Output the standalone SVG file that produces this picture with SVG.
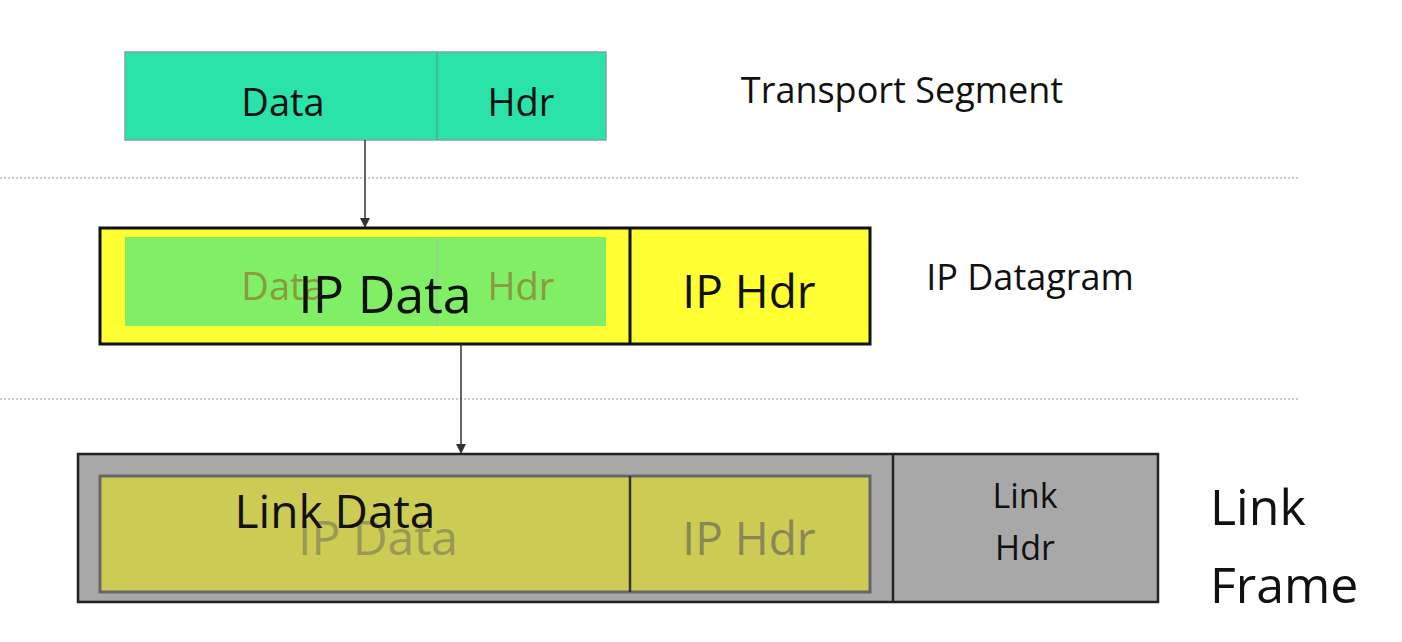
<svg xmlns="http://www.w3.org/2000/svg" width="1402" height="642" viewBox="0 0 1402 642">
<defs><marker id="ah" markerWidth="10" markerHeight="10" refX="9" refY="5" orient="auto" markerUnits="userSpaceOnUse"><path d="M0,0 L10,5 L0,10 z" fill="#333"/></marker>
<style>text{font-family:"Open Sans","Liberation Sans",sans-serif;text-anchor:middle;fill:#111}.sep{stroke:#bbb;stroke-width:1.5;stroke-dasharray:2 2}</style></defs>
<rect width="1402" height="642" fill="#fff"/>
<g id="separators"><line class="sep" x1="0" y1="178" x2="1300" y2="178"/><line class="sep" x1="0" y1="399" x2="1300" y2="399"/></g>
<g id="segment"><rect x="125" y="52" width="481" height="88" fill="#29e3a8" stroke="#7a9" stroke-width="1.5"/><line x1="437" y1="52" x2="437" y2="140" stroke="#5a8" stroke-width="1.5"/>
<text x="283" y="116" font-size="38">Data</text><text x="521" y="116" font-size="38">Hdr</text></g>
<g id="label-segment"><text x="902" y="103" font-size="36">Transport Segment</text></g>
<g id="datagram"><rect x="100" y="228" width="770" height="116" fill="#ffff33" stroke="#111" stroke-width="3"/><line x1="630" y1="228" x2="630" y2="344" stroke="#111" stroke-width="3"/>
<rect x="125" y="237" width="481" height="89" fill="#80ef66"/><line x1="437" y1="237" x2="437" y2="326" stroke="#9c9" stroke-width="1.5"/>
<text x="283" y="300" font-size="38" style="fill:#8a9a40">Data</text><text x="521" y="300" font-size="38" style="fill:#8a9a40">Hdr</text>
<text x="385" y="313" font-size="52">IP Data</text><text x="749" y="308" font-size="46">IP Hdr</text></g>
<g id="label-datagram"><text x="1030" y="290" font-size="36">IP Datagram</text></g>
<g id="frame"><rect x="78" y="454" width="1080" height="148" fill="#a8a8a8" stroke="#222" stroke-width="2.5"/><line x1="893" y1="454" x2="893" y2="602" stroke="#222" stroke-width="2.5"/>
<rect x="100" y="476" width="770" height="116" fill="#cccc55" stroke="#666" stroke-width="3"/><line x1="630" y1="476" x2="630" y2="592" stroke="#333" stroke-width="2.5"/>
<text x="378" y="555" font-size="48" style="fill:#999955">IP Data</text><text x="749" y="555" font-size="46" style="fill:#888855">IP Hdr</text>
<text x="335" y="528" font-size="46">Link Data</text>
<text x="1025" y="508" font-size="34">Link</text><text x="1025" y="560" font-size="34">Hdr</text></g>
<g id="label-frame"><text x="1210" y="525" font-size="50" style="text-anchor:start">Link</text><text x="1210" y="603" font-size="50" style="text-anchor:start">Frame</text></g>
<g id="connectors"><line x1="365" y1="140" x2="365" y2="227" stroke="#333" stroke-width="1.5" marker-end="url(#ah)"/><line x1="461" y1="344" x2="461" y2="453" stroke="#333" stroke-width="1.5" marker-end="url(#ah)"/></g>
</svg>
